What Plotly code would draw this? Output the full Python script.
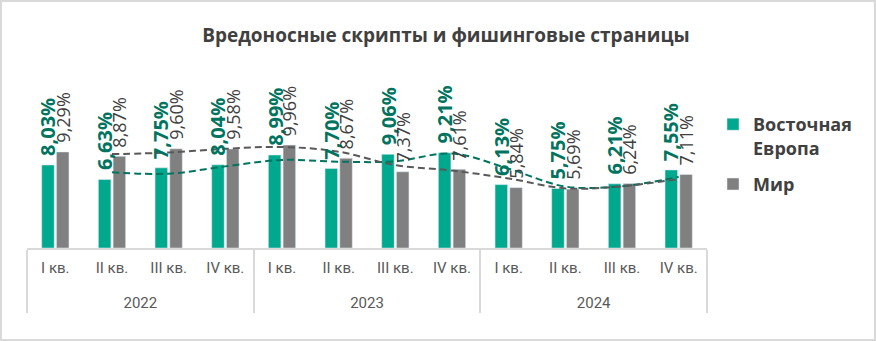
import plotly.graph_objects as go

years = ["2022"] * 4 + ["2023"] * 4 + ["2024"] * 4
quarters = ["I кв.", "II кв.", "III кв.", "IV кв."] * 3
east_europe = [8.03, 6.63, 7.75, 8.04, 8.99, 7.70, 9.06, 9.21, 6.13, 5.75, 6.21, 7.55]
world = [9.29, 8.87, 9.60, 9.58, 9.96, 8.67, 7.37, 7.61, 5.84, 5.69, 6.24, 7.11]
series_names = ["Восточная<br>Европа", "Мир"]

TEAL = "#00A88E"
TEAL_DARK = "#00745F"
GRAY = "#808080"
GRAY_DARK = "#595959"
TXT = "#404040"

BARGAP = 0.48
BARGROUPGAP = 0.15


def fmt(v):
    return ("%.2f%%" % v).replace(".", ",")


def moving_avg(vals):
    # Excel-style 2-period moving average trendline
    return [None] + [(vals[i - 1] + vals[i]) / 2 for i in range(1, len(vals))]


x = [years, [q + "<br>\u00a0" for q in quarters]]

fig = go.Figure()
fig.add_trace(go.Bar(x=x, y=east_europe, name=series_names[0], marker_color=TEAL,
                     legendgroup="a", hoverinfo="y"))
fig.add_trace(go.Bar(x=x, y=world, name=series_names[1], marker_color=GRAY,
                     legendgroup="b", hoverinfo="y"))
fig.add_trace(go.Scatter(
    x=x, y=moving_avg(east_europe), mode="lines", showlegend=False,
    line=dict(color=TEAL_DARK, width=2, dash="7px,4px", shape="spline"),
    hoverinfo="skip",
))
fig.add_trace(go.Scatter(
    x=x, y=moving_avg(world), mode="lines", showlegend=False,
    line=dict(color=GRAY_DARK, width=2, dash="7px,4px", shape="spline"),
    hoverinfo="skip",
))

# data labels: rotated, placed above each bar of the group
slot = (1 - BARGAP) / 2
annotations = []
for series, off, font in [
    (east_europe, -slot / 2, dict(family="Open Sans", size=20, color=TEAL_DARK, weight="bold")),
    (world, slot / 2, dict(family="Open Sans", size=18, color=TXT)),
]:
    for i, v in enumerate(series):
        annotations.append(dict(
            x=i + off, y=v, xref="x", yref="y", text=fmt(v), showarrow=False,
            textangle=-90, xanchor="center", yanchor="bottom", yshift=8,
            font=font, borderpad=0,
        ))

L, R, T, B = 27, 707, 80, 248
W, H = 876, 341
pw, ph = R - L, B - T


def px_x(p):
    return (p - L) / pw


def px_y(p):
    return (B - p) / ph


fig.update_layout(
    width=W, height=H,
    margin=dict(l=L, r=W - R, t=T, b=H - B, pad=0),
    paper_bgcolor="white", plot_bgcolor="white",
    barmode="group", bargap=BARGAP, bargroupgap=BARGROUPGAP,
    title=dict(text="<b>Вредоносные скрипты и фишинговые страницы</b>",
               x=0.509, xanchor="center", y=1 - 35 / H, yanchor="middle",
               font=dict(family="Open Sans", size=19, color=TXT)),
    legend=dict(x=px_x(713), y=px_y(106), xanchor="left", yanchor="top",
                valign="top", itemwidth=30,
                font=dict(family="Open Sans", size=18, color=TXT, weight="bold"),
                traceorder="grouped", tracegroupgap=10, bgcolor="rgba(0,0,0,0)"),
    showlegend=True,
    annotations=annotations,
    xaxis=dict(type="multicategory", showline=True, linecolor="#D9D9D9", linewidth=2,
               showgrid=False, ticks="", showdividers=True, dividercolor="#D9D9D9",
               dividerwidth=2, ticklabelstandoff=5,
               tickfont=dict(family="Roboto", size=15, color=GRAY_DARK)),
    yaxis=dict(range=[0, ph / 10.34], visible=False, showgrid=False, zeroline=False),
    shapes=[dict(type="rect", xref="paper", yref="paper",
                 x0=px_x(1), x1=px_x(875), y0=px_y(340), y1=px_y(1),
                 line=dict(color="#D9D9D9", width=2), layer="below")],
)

fig.write_html("out.html")
